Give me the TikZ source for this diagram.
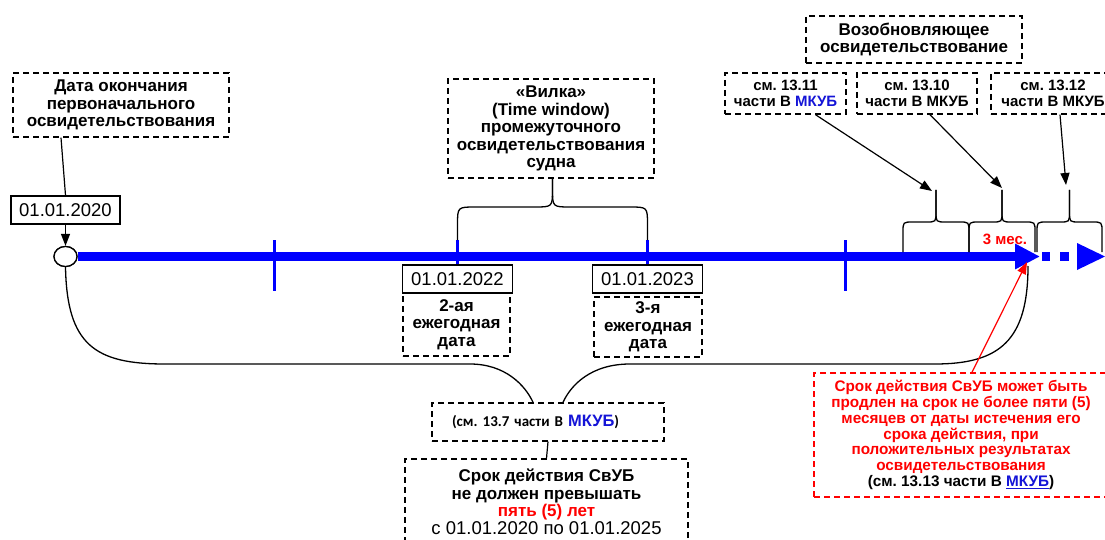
\documentclass[tikz,border=0pt]{standalone}
\usepackage{fontspec}
\setmainfont{Liberation Sans}
\newfontfamily\carl{Carlito}
\usetikzlibrary{shapes.geometric,arrows.meta,calc}
\definecolor{tl}{RGB}{0,0,255}
\definecolor{mk}{RGB}{20,20,215}
\definecolor{rd}{RGB}{255,0,0}
\frenchspacing
\newcommand\upbrace[6]{%
  \pgfmathsetmacro\bxc{(#1+#2)/2}%
  \draw[brc] (#1,#3) -- (#1,#4+#6) .. controls (#1,#4) .. (#1+#6,#4) -- (\bxc-#6,#4) .. controls (\bxc,#4) .. (\bxc,#4-#6) -- (\bxc,#5);
  \draw[brc] (#2,#3) -- (#2,#4+#6) .. controls (#2,#4) .. (#2-#6,#4) -- (\bxc+#6,#4) .. controls (\bxc,#4) .. (\bxc,#4-#6) -- (\bxc,#5);
}
\begin{document}
\frenchspacing
\begin{tikzpicture}[x=1pt,y=-1pt,
  dbox/.style={draw, dash pattern=on 6pt off 4pt, line width=1.4pt, inner sep=0pt, align=center, font=\bfseries\fontsize{17}{17.5}\selectfont},
  sbox/.style={draw, line width=1.5pt, inner sep=0pt, font=\fontsize{18.5}{20}\selectfont},
  smallf/.style={font=\bfseries\fontsize{15}{16}\selectfont},
  brc/.style={line width=1.3pt},
  arr/.style={line width=1.2pt, -{Triangle[length=12pt,width=9pt]}},
  tick/.style={tl, line width=3pt}]
\fill[white] (0,0) rectangle (1105,540);
\useasboundingbox (0,0) rectangle (1105,540);

% timeline
\node[ellipse, draw, line width=1.3pt, fill=white, minimum width=23pt, minimum height=20pt, inner sep=0pt] (ell) at (65.5,256.5) {};
\coordinate (tlend) at (1040,256.5);
\draw[tl, line width=9pt, -{Triangle[length=25pt,width=24pt]}] (ell.east) -- (tlend);
\node[ellipse, draw, line width=1.3pt, fill=white, minimum width=23pt, minimum height=20pt, inner sep=0pt] at (65.5,256.5) {};
\fill[tl] (1042,252) rectangle (1050,261);
\fill[tl] (1060,252) rectangle (1069,261);
\fill[tl] (1077,243) -- (1105,256.5) -- (1077,270) -- cycle;

% boxes
\node[dbox, minimum width=216pt, minimum height=64pt] (data) at (121,105) {Дата окончания\\первоначального\\освидетельствования};
\node[sbox, minimum width=109pt, minimum height=28pt] (d2020) at (65.5,210) {01.01.2020};
\node[dbox, minimum width=206pt, minimum height=99pt] (vilka) at (551,128.5) {«Вилка»\\(Time window)\\промежуточного\\освидетельствования\\судна};
\node[dbox, minimum width=216pt, minimum height=47pt] (vozob) at (914,39.5) {Возобновляющее\\освидетельствование};
\node[dbox, smallf, minimum width=121pt, minimum height=41pt] (s1311) at (785.5,93.5) {см. 13.11\\части В {\color{mk}МКУБ}};
\node[dbox, smallf, minimum width=120pt, minimum height=41pt] (s1310) at (917,93.5) {см. 13.10\\части В МКУБ};
\node[dbox, smallf, minimum width=124pt, minimum height=41pt] (s1312) at (1053,93.5) {см. 13.12\\части В МКУБ};
\node[sbox, minimum width=110pt, minimum height=28pt] (d2022) at (457.5,279) {01.01.2022};
\node[dbox, minimum width=107pt, minimum height=63pt] (a2) at (456.5,324.5) {2-ая\\ежегодная\\дата};
\node[sbox, minimum width=110pt, minimum height=28pt] (d2023) at (647.5,279) {01.01.2023};
\node[dbox, minimum width=108pt, minimum height=60pt] (a3) at (648,327) {3-я\\ежегодная\\дата};
\node[dbox, minimum width=232pt, minimum height=38pt, text width=192pt, inner xsep=20pt, align=left, font=\carl\bfseries\fontsize{15}{16}\selectfont] (s137) at (548,422) {(см. 13.7 части В {\normalfont\bfseries\fontsize{16.5}{16}\selectfont\color{mk}МКУБ})};
\node[dbox, minimum width=283pt, minimum height=86pt] (srok) at (546.5,502) {Срок действия СвУБ\\не должен превышать\\{\color{rd}пять (5) лет}\\{\mdseries\fontsize{18.5}{17.5}\selectfont с 01.01.2020 по 01.01.2025}};
\node[dbox, draw=rd, text=rd, font=\bfseries\fontsize{15.3}{15.8}\selectfont, minimum width=294pt, minimum height=124pt] (redb) at (961,435) {Срок действия СвУБ может быть\\продлен на срок не более пяти (5)\\месяцев от даты истечения его\\срока действия, при\\положительных результатах\\освидетельствования\\{\color{black}(см. 13.13 части В {\color{mk}\underline{МКУБ}})}};
\node[text=rd, font=\bfseries\fontsize{15}{15}\selectfont, inner sep=0pt] (mes) at (1005,239) {3 мес.};

% ticks
\draw[tick] (274,240) -- (274,291);
\draw[tick] (845,240) -- (845,291);
\draw[tick] (457.5,240) -- (d2022.north);
\draw[tick] (647.5,240) -- (d2023.north);

% braces
\upbrace{457.5}{647.5}{240}{207}{179}{18}
\upbrace{903}{969}{252}{222}{190}{10}
\upbrace{969}{1035}{252}{222}{190}{10}
\upbrace{1037}{1102}{252}{222}{190}{10}
\coordinate (t1) at (932,191);
\coordinate (t2) at (1002,188);
\coordinate (t3) at (1066,185);

% connectors
\draw[line width=1.2pt] ([xshift=-60pt]data.south) -- (d2020.north);
\draw[arr] (d2020.south) -- (ell.north);
\draw[arr] ([xshift=30pt]s1311.south) -- (t1);
\draw[arr] ([xshift=13pt]s1310.south) -- (t2);
\draw[arr] ([xshift=7pt]s1312.south) -- (t3);
\draw[line width=1.2pt] (s137.south) -- (srok.north);
\coordinate (bend) at (1028,266);
\draw[brc] (ell.south) .. controls (67,345) and (95,364) .. (165,364) -- (470,364) .. controls (505,364) and (525,385) .. ([xshift=-15pt]s137.north);
\draw[brc] ([xshift=15pt]s137.north) .. controls (571,385) and (591,364) .. (630,364) -- (935,364) .. controls (1000,364) and (1028,340) .. (bend);
\draw[rd, line width=1.2pt, -{Triangle[length=12pt,width=9pt]}] ([xshift=11pt]redb.north) -- (1027,262);
\end{tikzpicture}
\end{document}
